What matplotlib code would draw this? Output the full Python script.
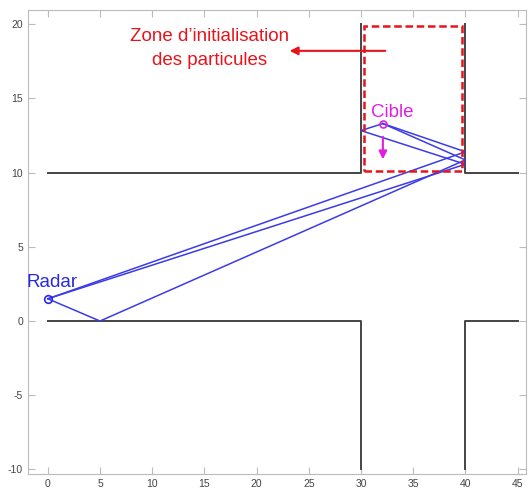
import matplotlib.pyplot as plt
from matplotlib.patches import Rectangle

# walls of the corridor (x, y polylines)
wall_x = [[0, 30, 30], [40, 40, 45], [0, 30, 30], [40, 40, 45]]
wall_y = [[10, 10, 20], [20, 10, 10], [0, 0, -10], [-10, 0, 0]]

# radar and target
radar = (0, 1.5)
cible = (32.1, 13.3)

# ray paths (bounce points)
ray_x = [[0, 40, 32.1], [0, 5, 40, 32.1], [0, 40, 30, 32.1]]
ray_y = [[1.5, 11.4, 13.3], [1.5, 0, 10.85, 13.3], [1.5, 10.56, 12.83, 13.3]]

# initialisation zone
zone_x = (30.25, 39.7)
zone_y = (10.1, 19.9)

xticks = [0, 5, 10, 15, 20, 25, 30, 35, 40, 45]
yticks = [-10, -5, 0, 5, 10, 15, 20]

plt.rcParams['font.family'] = ['Liberation Sans', 'DejaVu Sans']
plt.rcParams['axes.unicode_minus'] = False

fig = plt.figure(figsize=(5.28, 5.01), dpi=100)
ax = fig.add_axes([0.053, 0.054, 0.943, 0.926])

for xs, ys in zip(wall_x, wall_y):
    ax.plot(xs, ys, color='#444444', lw=1.4)

for xs, ys in zip(ray_x, ray_y):
    ax.plot(xs, ys, color='#3b3be8', lw=1.1)

ax.plot(*radar, 'o', mfc='none', mec='#2a2ae0', ms=5.5, mew=1.2)
ax.plot(*cible, 'o', mfc='none', mec='#e020e0', ms=5, mew=1.2)

ax.add_patch(Rectangle((zone_x[0], zone_y[0]), zone_x[1] - zone_x[0], zone_y[1] - zone_y[0],
                       fill=False, ec='#e8141c', ls=(0, (3, 1.5)), lw=1.8, zorder=5))

ax.annotate('', xy=(22.9, 18.2), xytext=(32.6, 18.2),
            arrowprops=dict(arrowstyle='-|>', color='#e8141c', lw=1.5, mutation_scale=12))
ax.text(15.5, 18.35, 'Zone d\u2019initialisation\ndes particules', color='#e8141c',
        fontsize=13.5, ha='center', va='center', linespacing=1.55)

ax.annotate('', xy=(32.1, 10.7), xytext=(32.1, 12.6),
            arrowprops=dict(arrowstyle='-|>', color='#e020e0', lw=1.5, mutation_scale=12))
ax.text(33.0, 14.05, 'Cible', color='#e020e0', fontsize=13.5, ha='center', va='center')
ax.text(0.4, 2.6, 'Radar', color='#2a2ae0', fontsize=13.5, ha='center', va='center')

ax.set_xlim(-1.9, 45.8)
ax.set_ylim(-10.3, 20.95)
ax.set_xticks(xticks)
ax.set_yticks(yticks)
ax.tick_params(direction='in', length=5, color='#bbbbbb', labelsize=7.5, labelcolor='#444444',
               top=True, right=True)
for s in ax.spines.values():
    s.set_color('#bbbbbb')

fig.savefig('out.png', dpi=100)
